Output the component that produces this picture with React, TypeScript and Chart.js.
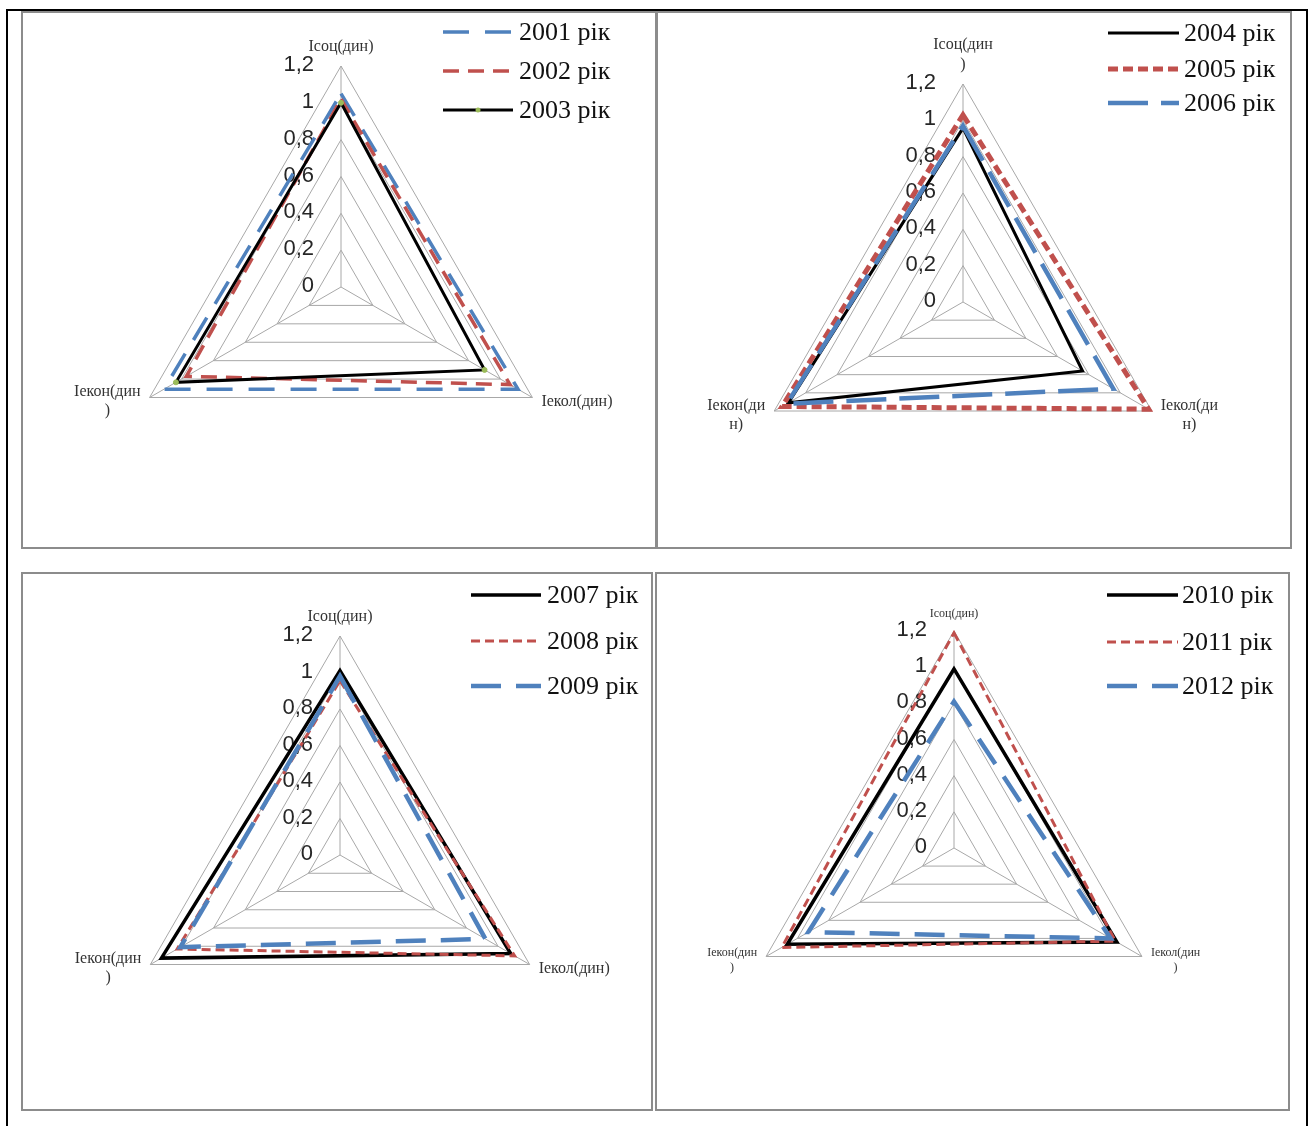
import React, { useEffect, useRef } from "react";
import { Chart, registerables } from "chart.js";

Chart.register(...registerables);

// ---------------- data ----------------
const categories = ["Ісоц(дин)", "Іекол(дин)", "Іекон(дин)"];
const tickValues = [0, 0.2, 0.4, 0.6, 0.8, 1, 1.2];
const tickLabels = ["0", "0,2", "0,4", "0,6", "0,8", "1", "1,2"];

const labelsA = [["Ісоц(дин)"], ["Іекол(дин)"], ["Іекон(дин", ")"]];
const labelsB = [["Ісоц(дин", ")"], ["Іекол(ди", "н)"], ["Іекон(ди", "н)"]];
const labelsD = [["Ісоц(дин)"], ["Іекол(дин", ")"], ["Іекон(дин", ")"]];

const years1 = ["2001 рік", "2002 рік", "2003 рік"];
const v2001 = [1.05, 1.11, 1.11];
const v2002 = [1.02, 1.06, 0.97];
const v2003 = [1.0, 0.9, 1.035];

const years2 = ["2004 рік", "2005 рік", "2006 рік"];
const v2004 = [0.957, 0.76, 1.11];
const v2005 = [1.03, 1.18, 1.15];
const v2006 = [0.97, 0.955, 1.12];

const years3 = ["2007 рік", "2008 рік", "2009 рік"];
const v2007 = [1.01, 1.08, 1.13];
const v2008 = [0.955, 1.105, 1.03];
const v2009 = [0.98, 0.92, 1.01];

const years4 = ["2010 рік", "2011 рік", "2012 рік"];
const v2010 = [0.99, 1.04, 1.065];
const v2011 = [1.19, 1.03, 1.1];
const v2012 = [0.81, 1.0, 0.93];

// ---------------- styles ----------------
const BLUE = "#4F81BD";
const RED = "#C0504D";
const BLACK = "#000000";
const GREEN = "#9BBB59";
const GRID = "#a8a8a8";

type Series = {
  label: string;
  data: number[];
  color: string;
  width: number;
  dash: number[];
  marker?: boolean;
};

type PanelCfg = {
  rect: [number, number, number, number];
  center: [number, number];
  radius: number;
  pointLabels: string[][];
  labelFont: number;
  series: Series[];
  legend: { x1: number; x2: number; tx: number; ys: number[] };
};

const panels: PanelCfg[] = [
  {
    rect: [21, 11, 636, 538],
    center: [341, 287],
    radius: 221,
    pointLabels: labelsA,
    labelFont: 16,
    series: [
      { label: years1[0], data: v2001, color: BLUE, width: 3.5, dash: [26, 16] },
      { label: years1[1], data: v2002, color: RED, width: 3.5, dash: [16, 9] },
      { label: years1[2], data: v2003, color: BLACK, width: 3, dash: [], marker: true },
    ],
    legend: { x1: 443, x2: 513, tx: 519, ys: [32, 71, 110] },
  },
  {
    rect: [656, 11, 636, 538],
    center: [963, 302],
    radius: 218,
    pointLabels: labelsB,
    labelFont: 16,
    series: [
      { label: years2[0], data: v2004, color: BLACK, width: 3, dash: [] },
      { label: years2[1], data: v2005, color: RED, width: 5, dash: [10, 5] },
      { label: years2[2], data: v2006, color: BLUE, width: 4.5, dash: [40, 13] },
    ],
    legend: { x1: 1108, x2: 1179, tx: 1184, ys: [33, 69, 103] },
  },
  {
    rect: [21, 572, 632, 539],
    center: [340, 855],
    radius: 219,
    pointLabels: labelsA,
    labelFont: 16,
    series: [
      { label: years3[0], data: v2007, color: BLACK, width: 3.5, dash: [] },
      { label: years3[1], data: v2008, color: RED, width: 3, dash: [9, 5] },
      { label: years3[2], data: v2009, color: BLUE, width: 4.5, dash: [30, 15] },
    ],
    legend: { x1: 471, x2: 541, tx: 547, ys: [595, 641, 686] },
  },
  {
    rect: [655, 572, 635, 539],
    center: [954, 848],
    radius: 217,
    pointLabels: labelsD,
    labelFont: 12,
    series: [
      { label: years4[0], data: v2010, color: BLACK, width: 3.5, dash: [] },
      { label: years4[1], data: v2011, color: RED, width: 3, dash: [9, 5] },
      { label: years4[2], data: v2012, color: BLUE, width: 4.5, dash: [30, 15] },
    ],
    legend: { x1: 1107, x2: 1178, tx: 1182, ys: [595, 642, 686] },
  },
];

function RadarPanel({ cfg }: { cfg: PanelCfg }) {
  const ref = useRef<HTMLCanvasElement>(null);
  const [l, t, w, h] = cfg.rect;

  useEffect(() => {
    if (!ref.current) return;
    const cx = cfg.center[0] - l;
    const cy = cfg.center[1] - t;

    const overlay = {
      id: "overlay",
      beforeDatasetsDraw(chart: any) {
        const s = chart.scales.r;
        const ctx = chart.ctx;
        ctx.save();
        ctx.font = "22px 'Liberation Sans', Arial, sans-serif";
        ctx.fillStyle = "#262626";
        ctx.textAlign = "right";
        ctx.textBaseline = "middle";
        tickValues.forEach((v, i) => {
          const y = s.yCenter - s.getDistanceFromCenterForValue(v);
          ctx.fillText(tickLabels[i], s.xCenter - 27, y - 1);
        });
        ctx.restore();
      },
      afterDraw(chart: any) {
        const s = chart.scales.r;
        const ctx = chart.ctx;
        ctx.save();
        // axis (point) labels
        ctx.fillStyle = "#333333";
        ctx.font = `${cfg.labelFont}px 'Liberation Serif', 'Times New Roman', serif`;
        ctx.textAlign = "center";
        ctx.textBaseline = "middle";
        const lh = cfg.labelFont * 1.2;
        cfg.pointLabels.forEach((lines, i) => {
          const p = s.getPointPosition(i, s.drawingArea);
          const bw = Math.max(...lines.map((ln) => ctx.measureText(ln).width));
          const bh = lines.length * lh;
          let x: number;
          let top: number;
          if (i === 0) {
            x = p.x;
            top = p.y - 10 - bh;
          } else if (i === 1) {
            x = p.x + 9 + bw / 2;
            top = p.y + 4 - bh / 2;
          } else {
            x = p.x - 9 - bw / 2;
            top = p.y + 4 - bh / 2;
          }
          lines.forEach((ln, k) => ctx.fillText(ln, x, top + lh * (k + 0.5)));
        });

        // legend
        const lg = cfg.legend;
        cfg.series.forEach((sr, i) => {
          const y = lg.ys[i] - t;
          ctx.strokeStyle = sr.color;
          ctx.lineWidth = sr.width;
          ctx.lineCap = "butt";
          ctx.setLineDash(sr.dash);
          ctx.beginPath();
          ctx.moveTo(lg.x1 - l, y);
          ctx.lineTo(lg.x2 - l, y);
          ctx.stroke();
          ctx.setLineDash([]);
          if (sr.marker) {
            ctx.beginPath();
            ctx.arc((lg.x1 + lg.x2) / 2 - l, y, 2.5, 0, Math.PI * 2);
            ctx.fillStyle = GREEN;
            ctx.fill();
          }
          ctx.fillStyle = "#111111";
          ctx.font = "26px 'Liberation Serif', 'Times New Roman', serif";
          ctx.textAlign = "left";
          ctx.textBaseline = "middle";
          ctx.fillText(sr.label, lg.tx - l, y + 1);
        });
        ctx.restore();
      },
    };

    const n = cfg.series.length;
    const chart = new Chart(ref.current, {
      type: "radar",
      data: {
        labels: categories,
        datasets: cfg.series.map((s, i) => ({
          label: s.label,
          data: s.data,
          borderColor: s.color,
          borderWidth: s.width,
          borderDash: s.dash,
          borderCapStyle: "butt",
          borderJoinStyle: "miter",
          backgroundColor: "rgba(0,0,0,0)",
          fill: false,
          tension: 0,
          pointRadius: s.marker ? 2.5 : 0,
          pointBackgroundColor: GREEN,
          pointBorderColor: GREEN,
          pointBorderWidth: 1,
          order: n - i,
        })),
      } as any,
      options: {
        responsive: false,
        maintainAspectRatio: false,
        animation: false,
        devicePixelRatio: 1,
        plugins: { legend: { display: false }, tooltip: { enabled: false } },
        scales: {
          r: {
            min: 0,
            max: 1.2,
            ticks: { display: false, stepSize: 0.2 },
            pointLabels: { display: false },
            grid: { color: GRID, lineWidth: 1 },
            angleLines: { color: GRID, lineWidth: 1 },
            afterFit: (sc: any) => {
              sc.xCenter = cx;
              sc.yCenter = cy;
              sc.drawingArea = cfg.radius;
            },
          },
        },
      } as any,
      plugins: [overlay],
    });
    return () => chart.destroy();
  }, []);

  return (
    <>
      <canvas
        ref={ref}
        width={w}
        height={h}
        style={{ position: "absolute", left: l, top: t, width: w, height: h }}
      />
      <div
        style={{
          position: "absolute",
          left: l,
          top: t,
          width: w,
          height: h,
          boxSizing: "border-box",
          border: "2px solid #8c8c8c",
          pointerEvents: "none",
        }}
      />
    </>
  );
}

export default function App() {
  return (
    <div
      style={{
        position: "absolute",
        left: 0,
        top: 0,
        width: 1313,
        height: 1126,
        background: "#ffffff",
        overflow: "hidden",
      }}
    >
      <div style={{ position: "absolute", left: 6, top: 9, width: 1302, height: 2, background: "#000" }} />
      <div style={{ position: "absolute", left: 6, top: 9, width: 2, height: 1117, background: "#000" }} />
      <div style={{ position: "absolute", left: 1306, top: 9, width: 2, height: 1117, background: "#000" }} />
      {panels.map((p, i) => (
        <RadarPanel key={i} cfg={p} />
      ))}
    </div>
  );
}
